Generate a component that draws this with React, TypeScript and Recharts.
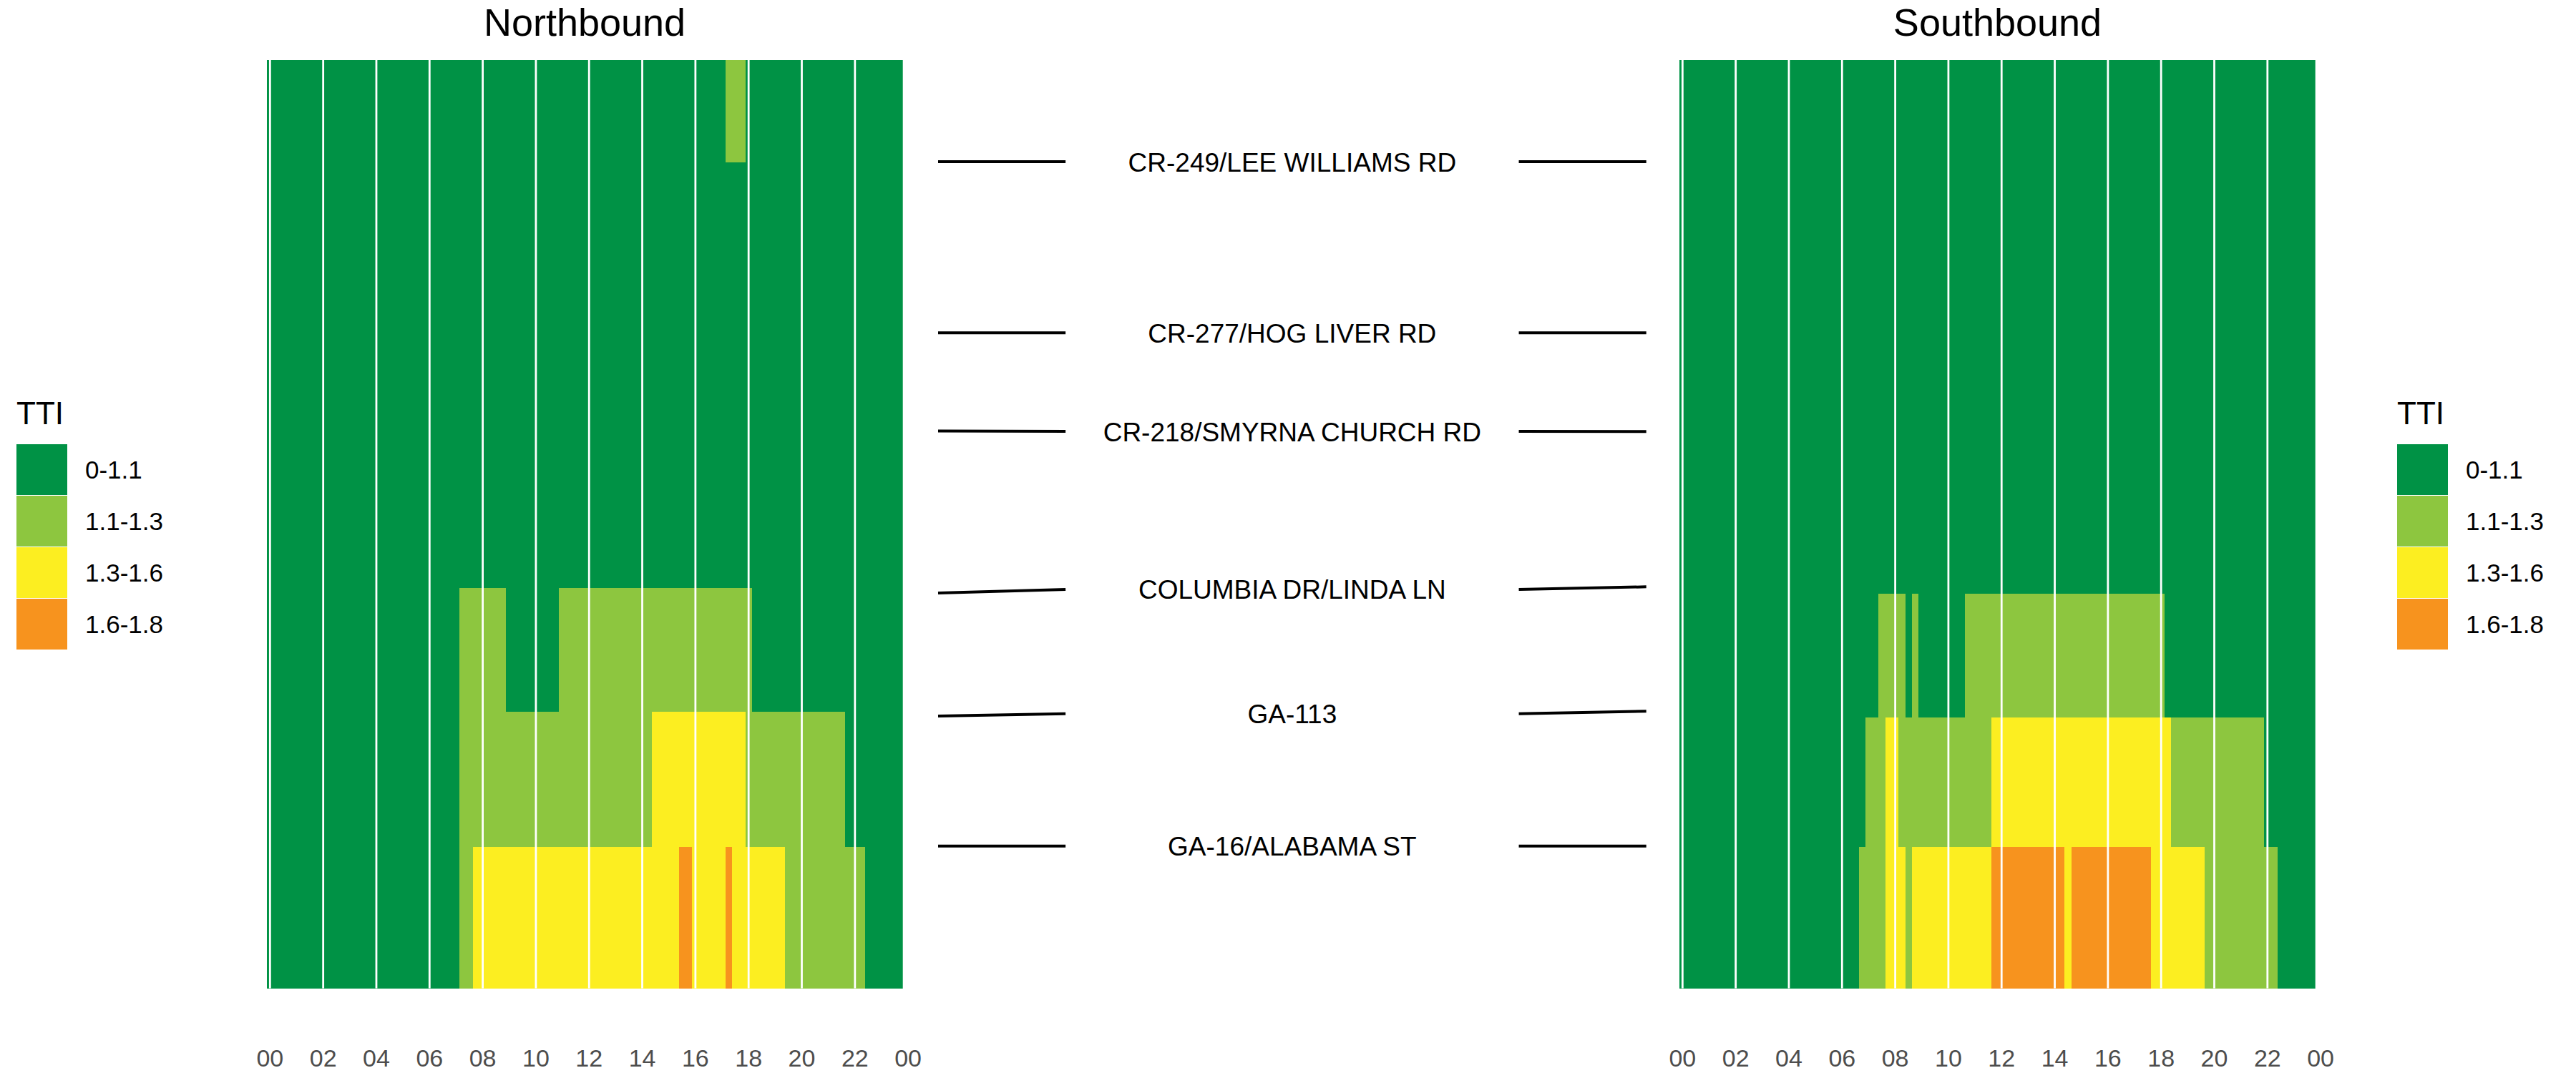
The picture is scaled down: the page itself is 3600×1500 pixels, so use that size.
import {
  BarChart,
  Bar,
  Cell,
  XAxis,
  YAxis,
  ReferenceLine,
  ComposedChart,
  Line,
  Scatter,
} from 'recharts';

const FONT = '"Liberation Sans", Arial, Helvetica, sans-serif';

const TTI_CLASSES = ['0-1.1', '1.1-1.3', '1.3-1.6', '1.6-1.8'];
const TTI_COLORS = ['#009245', '#8dc63f', '#fcee21', '#f7931e'];

// hour of day at the centre of each 15 min slot
const SLOT_HOURS = Array.from({ length: 96 }, (_, i) => i / 4);
const HOUR_TICKS = [0, 2, 4, 6, 8, 10, 12, 14, 16, 18, 20, 22, 24];
const GUIDE_HOURS = [0, 2, 4, 6, 8, 10, 12, 14, 16, 18, 20, 22];

// crossings from the south end up, position along the corridor in miles
const CROSSINGS = [
  'GA-16/ALABAMA ST',
  'GA-113',
  'COLUMBIA DR/LINDA LN',
  'CR-218/SMYRNA CHURCH RD',
  'CR-277/HOG LIVER RD',
  'CR-249/LEE WILLIAMS RD',
];
const NB_CROSSING_MI = [1.52, 2.98, 4.314, 6.003, 7.061, 8.9];
const SB_CROSSING_MI = [1.52, 2.919, 4.25, 6.003, 7.061, 8.9];
const CORRIDOR_MI = 10;

// connector lines in the middle column (left end, label, right end)
const LINK_LEFT_MI = [1.532, 2.933, 4.258, 6.003, 7.061, 8.905];
const LINK_LABEL_MI = [1.532, 2.958, 4.297, 6.0, 7.061, 8.905];
const LINK_RIGHT_MI = [1.532, 2.984, 4.325, 5.998, 7.061, 8.905];

// TTI class per 15 min slot (0..3), one string per segment, south to north, grouped by hour
const QUIET = '0000 0000 0000 0000 0000 0000 0000 0000 0000 0000 0000 0000 0000 0000 0000 0000 0000 0000 0000 0000 0000 0000 0000 0000';

const NB_TTI = [
  '0000 0000 0000 0000 0000 0000 0000 0112 2222 2222 2222 2222 2222 2222 2222 2233 2222 2322 2222 2211 1111 1111 1100 0000',
  '0000 0000 0000 0000 0000 0000 0000 0111 1111 1111 1111 1111 1111 1111 1122 2222 2222 2222 1111 1111 1111 1110 0000 0000',
  '0000 0000 0000 0000 0000 0000 0000 0111 1111 0000 0000 1111 1111 1111 1111 1111 1111 1111 1000 0000 0000 0000 0000 0000',
  QUIET,
  QUIET,
  QUIET,
  '0000 0000 0000 0000 0000 0000 0000 0000 0000 0000 0000 0000 0000 0000 0000 0000 0000 0111 0000 0000 0000 0000 0000 0000',
];

const SB_TTI = [
  '0000 0000 0000 0000 0000 0000 0001 1112 2212 2222 2222 2223 3333 3333 3323 3333 3333 3332 2222 2221 1111 1111 1100 0000',
  '0000 0000 0000 0000 0000 0000 0000 1112 2111 1111 1111 1112 2222 2222 2222 2222 2222 2222 2211 1111 1111 1111 0000 0000',
  '0000 0000 0000 0000 0000 0000 0000 0011 1101 0000 0001 1111 1111 1111 1111 1111 1111 1111 1000 0000 0000 0000 0000 0000',
  QUIET,
  QUIET,
  QUIET,
  QUIET,
];

const parseRow = (s: string) => s.replace(/\s/g, '').split('').map(Number);

// panel geometry
const PLOT_W = 889;
const X_MIN = -0.125;
const X_MAX = 23.8;
const BAR_W = (PLOT_W / (X_MAX - X_MIN)) * 0.25 - 0.015;

const TileShape = (p: any) => (
  <rect
    x={p.x}
    y={p.y}
    width={p.width + 0.4}
    height={p.height}
    fill={p.fill}
    shapeRendering="crispEdges"
  />
);

function HeatPanel({ rows, crossings }: { rows: string[]; crossings: number[] }) {
  const bounds = [0, ...crossings, CORRIDOR_MI];
  const cats = rows.map(parseRow);
  const data = SLOT_HOURS.map((t) => {
    const d: Record<string, number> = { t };
    for (let r = 0; r < bounds.length - 1; r++) d[`s${r}`] = bounds[r + 1] - bounds[r];
    return d;
  });

  return (
    <BarChart
      width={1300}
      height={1500}
      data={data}
      margin={{ top: 84, right: 1300 - 372.7 - PLOT_W, bottom: 8.5, left: 372.7 }}
      barCategoryGap={0}
      barGap={0}
      barSize={BAR_W}
      style={{ fontFamily: FONT }}
    >
      <XAxis
        type="number"
        dataKey="t"
        domain={[X_MIN, X_MAX]}
        allowDataOverflow
        ticks={HOUR_TICKS}
        interval={0}
        tickFormatter={(h: number) => String(h % 24).padStart(2, '0')}
        axisLine={false}
        tickLine={false}
        tickSize={0}
        tickMargin={85.5}
        height={110}
        tick={{ fontSize: 34, fill: '#4d4d4d', fontFamily: FONT }}
      />
      <YAxis type="number" domain={[0, CORRIDOR_MI]} hide />
      {cats.map((rowCats, r) => (
        <Bar
          key={r}
          dataKey={`s${r}`}
          stackId="tti"
          barSize={BAR_W}
          isAnimationActive={false}
          shape={TileShape}
        >
          {rowCats.map((c, i) => (
            <Cell key={i} fill={TTI_COLORS[c]} />
          ))}
        </Bar>
      ))}
      {GUIDE_HOURS.map((h) => (
        <ReferenceLine key={h} x={h} stroke="#ffffff" strokeWidth={2.8} />
      ))}
    </BarChart>
  );
}

const LINK_X = [0, 0.18, 0.5, 0.82, 1];

const CrossingLabel = (p: any) => (
  <text
    x={p.cx}
    y={p.cy + 13.5}
    textAnchor="middle"
    fontSize={37}
    fontFamily={FONT}
    fill="#000000"
  >
    {p.payload.name}
  </text>
);

function CrossingLinks() {
  const labels = CROSSINGS.map((name, i) => ({ x: LINK_X[2], y: LINK_LABEL_MI[i], name }));
  return (
    <ComposedChart
      width={1020}
      height={1500}
      margin={{ top: 84, right: 1020 - 11 - 989.7, bottom: 118.5, left: 11 }}
    >
      <XAxis type="number" dataKey="x" domain={[0, 1]} hide />
      <YAxis type="number" dataKey="y" domain={[0, CORRIDOR_MI]} hide />
      {CROSSINGS.map((name, i) => (
        <Line
          key={name}
          data={[
            { x: LINK_X[0], y: LINK_LEFT_MI[i] },
            { x: LINK_X[1], y: LINK_LABEL_MI[i] },
            { x: LINK_X[2], y: null },
            { x: LINK_X[3], y: LINK_LABEL_MI[i] },
            { x: LINK_X[4], y: LINK_RIGHT_MI[i] },
          ]}
          dataKey="y"
          type="linear"
          stroke="#000000"
          strokeWidth={4}
          dot={false}
          activeDot={false}
          isAnimationActive={false}
        />
      ))}
      <Scatter data={labels} dataKey="y" shape={CrossingLabel} isAnimationActive={false} />
    </ComposedChart>
  );
}

function TtiLegend({ x }: { x: number }) {
  return (
    <g fontFamily={FONT} fill="#000000">
      <text x={x} y={593} fontSize={44}>
        TTI
      </text>
      {TTI_CLASSES.map((label, i) => (
        <g key={label}>
          <rect x={x} y={621 + i * 72} width={71} height={71} fill={TTI_COLORS[i]} />
          <text x={x + 96} y={621 + i * 72 + 47.5} fontSize={35}>
            {label}
          </text>
        </g>
      ))}
    </g>
  );
}

export default function App() {
  return (
    <div
      style={{
        position: 'absolute',
        left: 0,
        top: 0,
        width: 3600,
        height: 1500,
        background: '#ffffff',
        overflow: 'hidden',
      }}
    >
      <svg
        width={3600}
        height={1500}
        style={{ position: 'absolute', left: 0, top: 0 }}
      >
        <text x={817} y={50} fontSize={54} textAnchor="middle" fontFamily={FONT}>
          Northbound
        </text>
        <text x={2791.5} y={50} fontSize={54} textAnchor="middle" fontFamily={FONT}>
          Southbound
        </text>
        <TtiLegend x={23} />
        <TtiLegend x={3350} />
      </svg>
      <div style={{ position: 'absolute', left: 0, top: 0 }}>
        <HeatPanel rows={NB_TTI} crossings={NB_CROSSING_MI} />
      </div>
      <div style={{ position: 'absolute', left: 1974.1, top: 0 }}>
        <HeatPanel rows={SB_TTI} crossings={SB_CROSSING_MI} />
      </div>
      <div style={{ position: 'absolute', left: 1300, top: 0 }}>
        <CrossingLinks />
      </div>
    </div>
  );
}
